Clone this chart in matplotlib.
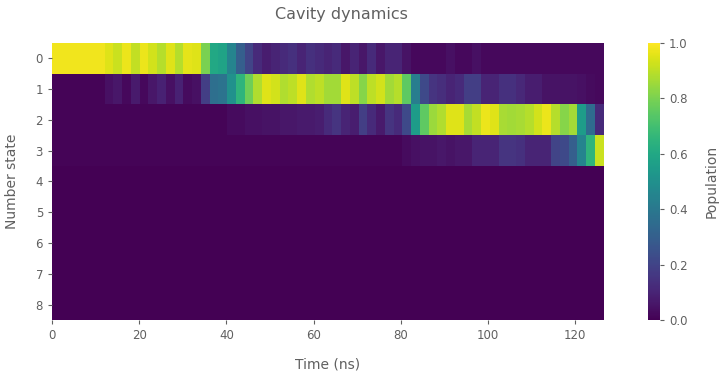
import matplotlib
matplotlib.use("Agg")
import matplotlib.pyplot as plt
import numpy as np

# ---------------- data ----------------
t_max = 126.6          # ns, end of the simulated window
n_steps = 63           # number of time bins
states = list(range(9))
x_ticks = [0, 20, 40, 60, 80, 100, 120]
cb_ticks = [0.0, 0.2, 0.4, 0.6, 0.8, 1.0]

state0 = [0.98, 0.98, 0.98, 0.98, 0.98, 0.98, 0.95, 0.92, 0.97, 0.91,
          0.97, 0.93, 0.89, 0.95, 0.89, 0.96, 0.95, 0.80, 0.60, 0.58,
          0.45, 0.30, 0.20, 0.12, 0.08, 0.10, 0.12, 0.14, 0.10, 0.14,
          0.12, 0.10, 0.12, 0.06, 0.10, 0.06, 0.12, 0.06, 0.10, 0.10,
          0.05, 0.02, 0.02, 0.02, 0.02, 0.04, 0.02, 0.02, 0.04, 0.02,
          0.02, 0.02, 0.02, 0.02, 0.02, 0.02, 0.02, 0.02, 0.02, 0.02,
          0.02, 0.02, 0.02]
state1 = [0.01, 0.01, 0.01, 0.01, 0.01, 0.01, 0.04, 0.06, 0.02, 0.07,
          0.02, 0.06, 0.09, 0.04, 0.09, 0.03, 0.04, 0.18, 0.36, 0.38,
          0.50, 0.65, 0.78, 0.88, 0.95, 0.93, 0.88, 0.90, 0.95, 0.88,
          0.90, 0.86, 0.86, 0.95, 0.90, 0.82, 0.90, 0.93, 0.86, 0.89,
          0.75, 0.42, 0.22, 0.15, 0.13, 0.10, 0.12, 0.18, 0.18, 0.10,
          0.10, 0.14, 0.14, 0.11, 0.08, 0.08, 0.05, 0.05, 0.05, 0.05,
          0.04, 0.03, 0.02]
state2 = [0.01, 0.01, 0.01, 0.01, 0.01, 0.01, 0.01, 0.01, 0.01, 0.01,
          0.01, 0.01, 0.01, 0.01, 0.01, 0.01, 0.01, 0.01, 0.01, 0.01,
          0.03, 0.03, 0.04, 0.04, 0.05, 0.05, 0.06, 0.06, 0.07, 0.07,
          0.08, 0.12, 0.15, 0.10, 0.08, 0.18, 0.12, 0.07, 0.15, 0.12,
          0.22, 0.55, 0.75, 0.85, 0.88, 0.95, 0.95, 0.87, 0.91, 0.97,
          0.95, 0.87, 0.86, 0.87, 0.89, 0.93, 0.97, 0.89, 0.82, 0.86,
          0.55, 0.35, 0.12]
state3 = [0.01, 0.01, 0.01, 0.01, 0.01, 0.01, 0.01, 0.01, 0.01, 0.01,
          0.01, 0.01, 0.01, 0.01, 0.01, 0.01, 0.01, 0.01, 0.01, 0.01,
          0.01, 0.01, 0.01, 0.01, 0.01, 0.01, 0.01, 0.01, 0.01, 0.01,
          0.01, 0.01, 0.01, 0.01, 0.01, 0.01, 0.01, 0.01, 0.01, 0.01,
          0.03, 0.04, 0.05, 0.05, 0.06, 0.05, 0.06, 0.06, 0.10, 0.10,
          0.10, 0.15, 0.15, 0.14, 0.10, 0.10, 0.10, 0.20, 0.22, 0.30,
          0.45, 0.65, 0.92]
state4 = [0.0] * n_steps
state5 = [0.0] * n_steps
state6 = [0.0] * n_steps
state7 = [0.0] * n_steps
state8 = [0.0] * n_steps

# ---------------- plot ----------------
txt = "#606060"
population = np.array([state0, state1, state2, state3, state4,
                       state5, state6, state7, state8])
time_edges = np.linspace(0, t_max, n_steps + 1)
state_edges = np.arange(len(states) + 1) - 0.5

fig = plt.figure(figsize=(7.23, 3.76), dpi=100)
ax = fig.add_axes([0.072, 0.149, 0.763, 0.737])
mesh = ax.pcolormesh(time_edges, state_edges, population, cmap="viridis",
                     vmin=0, vmax=1, shading="flat")
ax.set_xlim(0, t_max)
ax.set_ylim(8.5, -0.5)
ax.set_yticks(states)
ax.set_xticks(x_ticks)
for s in ax.spines.values():
    s.set_visible(False)
ax.tick_params(colors=txt, labelsize=8.5, length=3, width=0.8)
ax.set_xlabel("Time (ns)", fontsize=10, color=txt, labelpad=11)
ax.set_ylabel("Number state", fontsize=10, color=txt, labelpad=12)

cax = fig.add_axes([0.896, 0.149, 0.017, 0.737])
cb = fig.colorbar(mesh, cax=cax)
cb.outline.set_visible(False)
cb.set_ticks(cb_ticks)
cb.ax.tick_params(colors=txt, labelsize=8.5, length=3, width=0.8)
cb.set_label("Population", fontsize=10, color=txt, labelpad=12)

fig.text(0.472, 0.962, "Cavity dynamics", ha="center", va="center",
         fontsize=11.5, color=txt)

fig.savefig("out.png", dpi=100)
